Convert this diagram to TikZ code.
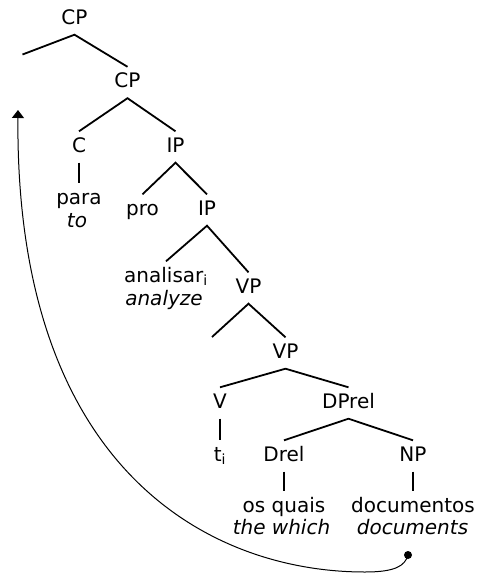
\documentclass[tikz,border=0pt]{standalone}
\usepackage{fontspec}
\setmainfont{DejaVu Sans}
\usepackage{tikz}
\usetikzlibrary{arrows.meta}
\newcommand\treefont{\fontsize{20}{23}\selectfont}
\tikzset{
  cat/.style={anchor=base, text height=15pt, text depth=5pt,
    inner xsep=2pt, inner ysep=5.5pt, font=\treefont},
  gloss/.style={cat, font=\treefont\itshape},
  branch/.style={line width=1.8pt},
  movement/.style={line width=1pt, -{Triangle[length=8pt,width=12pt]}}
}

\begin{document}
\begin{tikzpicture}[x=1pt, y=-1pt]
    \useasboundingbox (0,0) rectangle (477,573);
    % ---- CP layer ----
    \node[cat] (cp) at (74.5,24) {CP};
    \coordinate (cpspec) at (22.5,54.5);
    \node[cat] (cpbar) at (127.5,87.5) {CP};
    \node[cat] (c) at (79,152) {C};
    \node[cat] (para) at (79,204) {para};
    \node[gloss] (to) at (77,227) {to};
    % ---- IP layer ----
    \node[cat] (ip) at (175.5,152) {IP};
    \node[cat] (pro) at (142.5,215) {pro};
    \node[cat] (ipbar) at (207,215) {IP};
    \node[cat] (analisar) at (166,282) {analisar\textsubscript{i}};
    \node[gloss] (analyze) at (164,305) {analyze};
    % ---- VP layer ----
    \node[cat] (vp) at (248.5,293) {VP};
    \coordinate (vpspec) at (212,337);
    \node[cat] (vpbar) at (285.5,358) {VP};
    \node[cat] (v) at (220,408) {V};
    \node[cat] (trace) at (220,461) {t\textsubscript{i}};
    % ---- relative DP ----
    \node[cat] (dprel) at (348.5,408) {DPrel};
    \node[cat] (drel) at (284,461) {Drel};
    \node[cat] (np) at (413,461) {NP};
    \node[cat] (osquais) at (284,512) {os quais};
    \node[gloss] (thewhich) at (281.5,534) {the which};
    \node[cat] (documentos) at (413,512) {documentos};
    \node[gloss] (documents) at (412.5,534) {documents};
    % ---- branches ----
    \draw[branch] (cpspec) -- (cp.south) -- (cpbar.north);
    \draw[branch] (c.north) -- (cpbar.south) -- (ip.north);
    \draw[branch] (c.south) -- (para.north);
    \draw[branch] (pro.north) -- (ip.south) -- (ipbar.north);
    \draw[branch] (analisar.north) -- (ipbar.south) -- (vp.north);
    \draw[branch] (vpspec) -- (vp.south) -- (vpbar.north);
    \draw[branch] (v.north) -- (vpbar.south) -- (dprel.north);
    \draw[branch] (v.south) -- (trace.north);
    \draw[branch] (drel.north) -- (dprel.south) -- (np.north);
    \draw[branch] (drel.south) -- (osquais.north);
    \draw[branch] (np.south) -- (documentos.north);
    % ---- movement arrow ----
    \coordinate (src) at (408,555);
    \coordinate (dip) at (365,572);
    \coordinate (landing) at (18,110);
    \fill (src) circle (4pt);
    \draw[movement] (src) .. controls (405,566) and (395,572) .. (dip)
      .. controls (210,572) and (15,470) .. (landing);
\end{tikzpicture}
\end{document}
